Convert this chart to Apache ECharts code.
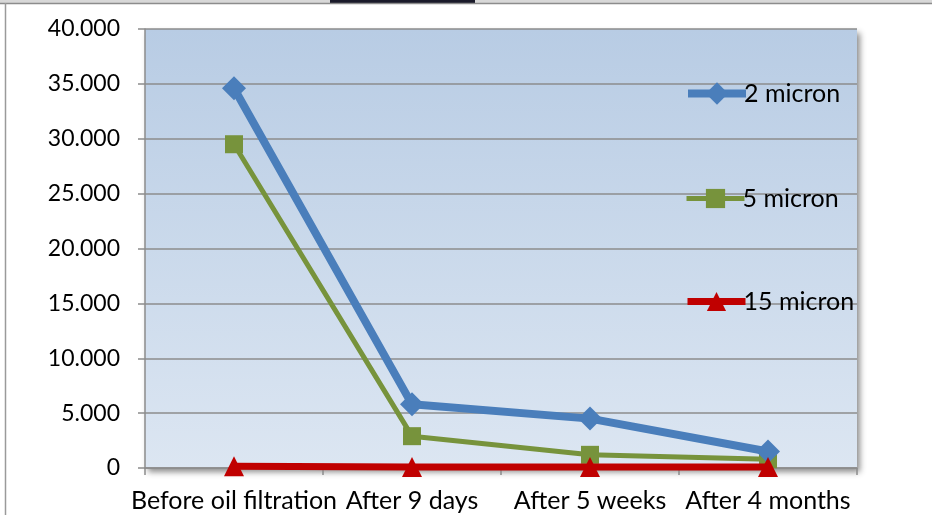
<!DOCTYPE html>
<html><head><meta charset="utf-8">
<script src="https://cdn.jsdelivr.net/npm/echarts@6/dist/echarts.min.js"></script>
<style>html,body{margin:0;padding:0;background:#fff}#c{width:932px;height:515px}</style>
</head><body><div id="c"></div>
<script>
const categories = ['Before oil filtration', 'After 9 days', 'After 5 weeks', 'After 4 months'];
const s2micron = [34.6, 5.8, 4.5, 1.5];
const s5micron = [29.5, 2.9, 1.2, 0.8];
const s15micron = [0.15, 0.1, 0.1, 0.1];
const seriesNames = ['2 micron', '5 micron', '15 micron'];
const yTicks = {min: 0, max: 40, interval: 5};

const chart = echarts.init(document.getElementById('c'));
const font = 'Lato, "Open Sans", sans-serif';
function legendAt(name, center, lw, size) {
  return {data: [name], left: 684, top: center - size / 2, padding: 0, itemWidth: 58, itemHeight: size, itemGap: 0,
    lineStyle: {width: lw},
    textStyle: {fontFamily: font, fontSize: 25, color: '#000', padding: [0, 0, 0, -7]}, selectedMode: false};
}
chart.setOption({
  animation: false,
  backgroundColor: '#fff',
  graphic: [
    {type: 'rect', shape: {x: 0, y: 0, width: 932, height: 3}, style: {fill: '#d8d8d8'}},
    {type: 'rect', shape: {x: 330, y: 0, width: 145, height: 3}, style: {fill: '#1a1a2a'}},
    {type: 'line', shape: {x1: 0, y1: 3.5, x2: 932, y2: 3.5}, style: {stroke: '#8c8c8c', lineWidth: 1.5}},
    {type: 'line', shape: {x1: 5.5, y1: 3, x2: 5.5, y2: 515}, style: {stroke: '#9a9a9a', lineWidth: 1.5}}
  ],
  grid: {left: 145, right: 75, top: 29, bottom: 47, show: true, borderWidth: 0,
    backgroundColor: new echarts.graphic.LinearGradient(0, 0, 0, 1, [
      {offset: 0, color: '#b8cce4'}, {offset: 1, color: '#dce6f2'}]),
    shadowBlur: 6, shadowColor: 'rgba(0,0,0,0.45)', shadowOffsetX: 3, shadowOffsetY: 4},
  legend: [legendAt(seriesNames[0], 95, 8, 28), legendAt(seriesNames[1], 198, 5, 24), legendAt(seriesNames[2], 301, 7, 24)],
  xAxis: {type: 'category', data: categories, boundaryGap: true,
    axisLine: {lineStyle: {color: '#8c8c8c', width: 1.5}},
    axisTick: {show: true, length: 7, lineStyle: {color: '#8c8c8c', width: 1.5}},
    axisLabel: {fontFamily: font, fontSize: 25, color: '#000', margin: 20, interval: 0}},
  yAxis: {type: 'value', min: yTicks.min, max: yTicks.max, interval: yTicks.interval,
    axisLine: {show: true, lineStyle: {color: '#8c8c8c', width: 1.5}},
    axisTick: {show: true, length: 7, lineStyle: {color: '#8c8c8c', width: 1.5}},
    splitLine: {lineStyle: {color: '#8c8c8c', width: 1.5}},
    axisLabel: {fontFamily: font, fontSize: 23, color: '#000', margin: 25,
      formatter: v => v === 0 ? '0' : v.toFixed(3)}},
  series: [
    {name: seriesNames[0], type: 'line', data: s2micron, symbol: 'diamond', symbolSize: 24,
      lineStyle: {color: '#4a7ebb', width: 8}, itemStyle: {color: '#4a7ebb'}, z: 4},
    {name: seriesNames[1], type: 'line', data: s5micron, symbol: 'rect', symbolSize: 18,
      lineStyle: {color: '#77933c', width: 5}, itemStyle: {color: '#77933c'}, z: 3},
    {name: seriesNames[2], type: 'line', data: s15micron, symbol: 'triangle', symbolSize: 20,
      lineStyle: {color: '#c00000', width: 7}, itemStyle: {color: '#c00000'}, z: 5}
  ]
});
</script></body></html>
